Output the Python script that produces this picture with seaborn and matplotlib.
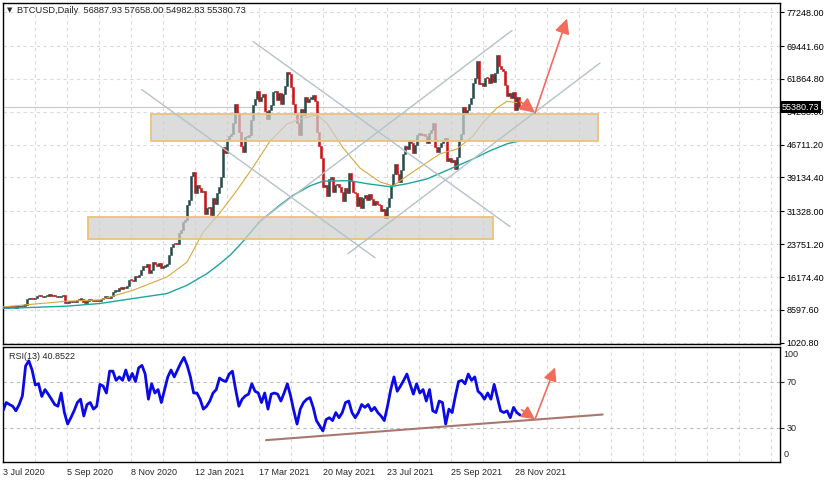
import numpy as np
import matplotlib
matplotlib.use("Agg")
import matplotlib.pyplot as plt
from matplotlib.patches import Rectangle
import seaborn as sns

# BTCUSD closes every 2nd day from 3 Jul 2020 (thousand USD)
close = [
    9.07, 9.07, 9.25, 9.24, 9.28, 9.24, 9.13, 9.15, 9.19, 9.39, 9.60, 9.70, 11.03, 11.10, 11.35,
    11.07, 11.23, 11.76, 11.68, 11.88, 11.58, 11.78, 11.86, 11.99, 11.86, 11.68, 11.75, 11.47, 11.54, 11.68,
    11.97, 10.18, 10.26, 10.37, 10.34, 10.44, 10.32, 10.79, 10.97, 11.08, 10.42, 10.24, 10.74, 10.78, 10.84,
    10.62, 10.58, 10.79, 10.67, 11.06, 11.38, 11.43, 11.51, 11.36, 11.75, 12.82, 12.97, 13.03, 13.65, 13.46, 13.80,
    13.55, 14.15, 15.57, 15.48, 15.30, 16.32, 16.07, 16.72, 17.80, 18.68, 18.40, 19.16, 17.15, 17.72, 19.63,
    19.20, 18.65, 19.36, 18.32, 18.55, 18.81, 19.27, 21.31, 23.15, 23.87, 23.82, 23.73, 26.44, 27.08, 28.86,
    29.37, 32.78, 34.00, 39.37, 40.30, 35.57, 37.30, 36.80, 35.80, 36.00, 30.80, 32.10, 32.30, 30.40, 34.30, 33.10,
    35.50, 36.90, 39.30, 46.20, 44.80, 47.90, 48.60, 49.20, 51.70, 56.00, 54.10, 49.70, 46.30, 45.10,
    48.40, 48.40, 48.90, 52.30, 55.90, 57.30, 59.00, 56.80, 57.60, 58.30, 54.50, 52.70, 54.80, 55.80, 58.80,
    59.00, 57.10, 58.70, 56.00, 58.30, 60.20, 63.50, 63.10, 60.00, 56.20, 53.80, 51.70, 49.00, 55.00, 53.60,
    57.80, 56.60, 57.30, 57.30, 58.20, 56.70, 49.70, 46.40, 43.60, 37.00, 37.50, 34.80, 38.80, 39.30, 35.70, 37.30,
    37.60, 36.90, 35.80, 33.60, 36.70, 35.60, 40.20, 38.30, 35.80, 35.60, 32.50, 34.60, 32.00, 34.50, 35.00,
    33.90, 35.30, 34.20, 32.90, 33.80, 33.10, 32.80, 31.50, 31.80, 29.80, 32.30, 34.30, 37.30, 40.00, 42.20,
    39.90, 38.20, 40.90, 44.60, 46.40, 45.60, 47.80, 47.10, 44.80, 46.70, 48.90, 49.50, 48.90, 49.00, 48.80, 47.10,
    49.30, 50.00, 51.80, 46.10, 44.90, 46.10, 47.10, 47.80, 48.30, 43.00, 43.60, 42.80, 43.20, 41.00, 43.80,
    47.70, 49.10, 55.40, 53.80, 54.70, 56.00, 57.40, 60.90, 62.00, 66.00, 60.70, 61.00, 60.20, 62.20, 62.00,
    61.00, 62.90, 61.10, 63.30, 67.50, 64.90, 64.20, 63.60, 60.40, 58.00, 58.70, 57.50, 58.90, 54.80, 57.80,
    55.38,
]

# moving averages (bar index, thousand USD)
ma_gold_day = [0, 32, 64, 97, 130, 164, 184, 200, 217, 234, 250, 267, 284, 300, 314, 324, 340, 357,
               377, 390, 404, 424, 437, 454, 470, 480, 494, 504, 514]
ma_gold = [9.29, 9.95, 10.6, 10.9, 13.12, 16.2, 19.6, 26.5, 31.0, 36.2, 41.5, 47.5, 51.5, 52.8, 53.6, 51.6,
           46.0, 41.3, 38.1, 37.2, 39.5, 42.6, 44.6, 45.7, 48.7, 51.8, 55.2, 56.7, 56.4]
ma_teal_day = [0, 64, 97, 130, 164, 184, 204, 217, 227, 237, 257, 277, 290, 307, 320, 347, 364, 387,
               404, 424, 447, 470, 487, 504, 517]
ma_teal = [8.92, 9.45, 10.07, 11.21, 12.36, 14.27, 16.96, 19.25, 21.2, 23.6, 29.0, 32.8, 35.0, 37.2, 38.3,
           38.4, 37.7, 37.0, 37.7, 38.8, 41.1, 43.4, 45.3, 46.9, 47.6]

# RSI(13), evenly spaced from first to last bar
rsi = [
    44.5, 51.7, 50.0, 48.5, 44.5, 50.0, 57.5, 83.6, 88.0, 80.0,
    67.0, 68.0, 57.0, 63.0, 59.0, 54.6, 50.0, 48.5, 60.0, 43.0,
    33.0, 38.5, 44.5, 51.7, 54.6, 40.0, 50.0, 51.7, 46.0, 48.5,
    67.5, 66.0, 60.0, 79.0, 79.0, 71.0, 74.0, 71.0, 80.0, 71.0,
    77.0, 70.0, 82.0, 84.0, 76.5, 54.6, 68.0, 60.0, 63.0, 51.7,
    63.0, 74.0, 80.0, 74.0, 80.0, 86.0, 91.0, 84.0, 74.0, 60.0,
    60.0, 54.6, 46.0, 48.5, 53.0, 60.0, 63.0, 73.0, 71.0, 70.0,
    76.5, 79.0, 63.0, 48.5, 54.6, 57.5, 59.0, 68.0, 61.5, 60.0, 51.7,
    60.0, 46.0, 59.0, 60.0, 59.0, 53.0, 60.0, 68.0, 57.5, 44.5,
    33.0, 46.0, 51.7, 54.6, 56.0, 47.5, 36.0, 31.5, 27.0, 37.0,
    38.5, 36.0, 43.0, 38.5, 43.0, 51.7, 53.0, 43.0, 38.5, 43.0,
    50.0, 47.5, 50.0, 44.5, 47.5, 43.0, 40.0, 36.0, 48.5, 63.0,
    74.0, 61.5, 66.0, 71.0, 76.5, 67.5, 59.0, 68.0, 60.0, 63.0,
    53.0, 63.0, 44.5, 43.0, 53.0, 51.7, 33.0, 46.0, 43.0, 57.5,
    70.0, 71.0, 68.0, 76.5, 71.0, 74.0, 61.5, 59.0, 54.6, 60.0,
    54.6, 67.5, 56.0, 44.5, 43.0, 44.5, 38.5, 47.5, 43.0, 40.85,
]

price_ticks = [77.248, 69.4416, 61.8648, 54.288, 46.7112, 39.1344, 31.328, 23.7512, 16.1744, 8.5976, 1.0208]
price_labels = ["77248.00", "69441.60", "61864.80", "54288.00", "46711.20", "39134.40",
                "31328.00", "23751.20", "16174.40", "8597.60", "1020.80"]
date_days = [0, 64, 128, 192, 256, 320, 384, 448, 512]
date_labels = ["3 Jul 2020", "5 Sep 2020", "8 Nov 2020", "12 Jan 2021", "17 Mar 2021",
               "20 May 2021", "23 Jul 2021", "25 Sep 2021", "28 Nov 2021"]

# drawn objects: zones (day0, day1, low, high), lines and arrows (day, value)
zones = [(148, 595, 47.56, 53.8), (85, 490, 24.94, 30.0)]
channel_lines = [((250, 70.52), (507, 27.81)), ((138.7, 59.43), (372, 20.63)),
                 ((345, 21.55), (597, 65.54)), ((255, 28.73), (509, 73.05))]
price_arrows = [((517, 56.74), (532, 54.1)), ((532, 54.0), (564, 75.8))]
rsi_arrows = [((518.7, 45.3), (532, 37.2)), ((532, 37.2), (552, 82.2))]
rsi_trend = ((263, 19.0), (599.7, 41.3))
last_price = 55.38073

sns.set_style("white")
plt.rcParams["font.family"] = ["Liberation Sans", "DejaVu Sans"]
FS = 6.5

fig = plt.figure(figsize=(8.3, 4.83), dpi=100)
ax = fig.add_axes([2.5 / 830, 1 - 344 / 483, 777 / 830, 341 / 483])
ax2 = fig.add_axes([2.5 / 830, 1 - 462 / 483, 777 / 830, 115 / 483])

grid_days = np.arange(0, 777, 32)
grid_kw = dict(ls=(0, (3, 3)), color="#DADADA", lw=0.8)

# candles
c = np.array(close)
days = np.arange(len(c)) * 2
o = np.r_[c[0], c[:-1]]
up = c >= o
col = np.where(up, "#2B4B4B", "#C81616")
ax.bar(days, np.maximum(np.abs(c - o), 0.3), bottom=np.minimum(c, o), width=1.9,
       color=col, edgecolor=col, linewidth=0.4, zorder=3)

sns.lineplot(x=ma_gold_day, y=ma_gold, ax=ax, color="#D6A83E", lw=0.8, zorder=3.5)
sns.lineplot(x=ma_teal_day, y=ma_teal, ax=ax, color="#1FA5A0", lw=1.0, zorder=3.5)

for d0, d1, lo, hi in zones:
    ax.add_patch(Rectangle((d0, lo), d1 - d0, hi - lo, facecolor="#CFCFCF", alpha=0.72,
                           edgecolor="none", zorder=4))
    ax.add_patch(Rectangle((d0, lo), d1 - d0, hi - lo, facecolor="none",
                           edgecolor="#EBC27A", lw=1.3, zorder=4.1))

for (x0, y0), (x1, y1) in channel_lines:
    ax.plot([x0, x1], [y0, y1], color="#B4C2CB", lw=1.0, zorder=5)

for start, end in price_arrows:
    ax.annotate("", xy=end, xytext=start, zorder=6,
                arrowprops=dict(arrowstyle="-|>,head_length=0.9,head_width=0.45",
                                color="#F26B5B", lw=1.2, shrinkA=0, shrinkB=0))

ax.axhline(last_price, color="#C8C8C8", lw=0.8, zorder=2)

ax.set_xlim(-0.5, 776.5)
ax.set_ylim(0.72, 79.39)
ax.set_xticks(grid_days)
ax.tick_params(axis="x", length=0, labelbottom=False)
ax.yaxis.tick_right()
ax.set_yticks(price_ticks)
ax.set_yticklabels(price_labels)
ax.tick_params(axis="y", length=3, width=0.8, pad=2, labelsize=FS, colors="black")
ax.grid(True, **grid_kw)
ax.set_xlabel("")
ax.set_ylabel("")
for s in ax.spines.values():
    s.set_visible(True)
    s.set_color("black")
    s.set_linewidth(1.0)

ax.text(1.003, last_price, "55380.73", transform=ax.get_yaxis_transform(), va="center", ha="left",
        color="white", fontsize=FS, zorder=10, clip_on=False,
        bbox=dict(boxstyle="square,pad=0.15", fc="black", ec="none"))

fig.text(9.5 / 830, 1 - 10.5 / 483, "\u25BC", fontsize=5, family="DejaVu Sans", ha="center", va="center")
fig.text(17 / 830, 1 - 10.7 / 483, "BTCUSD,Daily  56887.93 57658.00 54982.83 55380.73",
         fontsize=6.7, va="center", ha="left")

# RSI panel
rsi_x = np.linspace(0, days[-1] + 1, len(rsi))
sns.lineplot(x=rsi_x, y=rsi, ax=ax2, color="#0A0AE6", lw=2.0, zorder=4)
(tx0, ty0), (tx1, ty1) = rsi_trend
ax2.plot([tx0, tx1], [ty0, ty1], color="#A9776F", lw=1.5, zorder=3)
for start, end in rsi_arrows:
    ax2.annotate("", xy=end, xytext=start, zorder=6,
                 arrowprops=dict(arrowstyle="-|>,head_length=0.8,head_width=0.4",
                                 color="#F26B5B", lw=1.2, shrinkA=0, shrinkB=0))

ax2.set_xlim(-0.5, 776.5)
ax2.set_ylim(0, 100)
ax2.set_xticks(date_days)
ax2.set_xticklabels(date_labels)
ax2.set_xticks(grid_days, minor=True)
for lbl in ax2.get_xticklabels():
    lbl.set_ha("left")
ax2.tick_params(axis="x", which="major", length=3, width=0.8, pad=1.5, labelsize=FS)
ax2.tick_params(axis="x", which="minor", length=0)
ax2.grid(True, which="both", axis="x", **grid_kw)
ax2.yaxis.tick_right()
ax2.set_yticks([70, 30])
ax2.set_yticklabels(["70", "30"])
ax2.tick_params(axis="y", length=3, width=0.8, pad=2, labelsize=FS)
ax2.grid(True, axis="y", ls=(0, (3, 3)), color="#BDBDBD", lw=0.8)
ax2.set_xlabel("")
ax2.set_ylabel("")
for s in ax2.spines.values():
    s.set_visible(True)
    s.set_color("black")
    s.set_linewidth(1.0)
ytr = ax2.get_yaxis_transform()
ax2.text(1.005, 93.9, "100", transform=ytr, va="center", ha="left", fontsize=FS, clip_on=False)
ax2.text(1.005, 6.1, "0", transform=ytr, va="center", ha="left", fontsize=FS, clip_on=False)
ax2.text(6 / 777, 92.0, "RSI(13) 40.8522", transform=ytr, va="center", ha="left", fontsize=FS)

fig.savefig("out.png", dpi=100)
